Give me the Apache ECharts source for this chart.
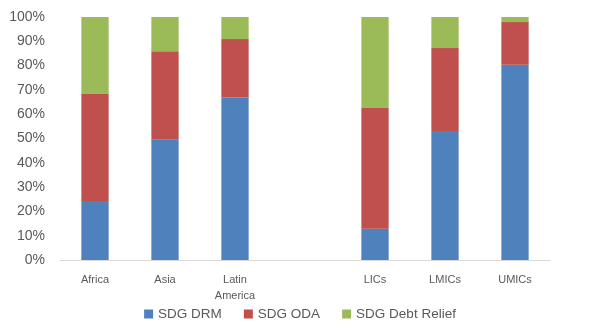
<!DOCTYPE html>
<html><head><meta charset="utf-8">
<script src="https://cdn.jsdelivr.net/npm/echarts@6/dist/echarts.min.js"></script>
<style>html,body{margin:0;padding:0;background:#fff}#c{width:600px;height:328px}</style>
</head><body><div id="c"></div>
<script>
const categories = ['Africa', 'Asia', 'Latin\nAmerica', '', 'LICs', 'LMICs', 'UMICs'];
const drm = [24.3, 49.5, 66.9, null, 12.9, 53.1, 80.4];
const oda = [44.0, 36.4, 24.0, null, 49.7, 34.1, 17.5];
const debt = [31.7, 14.1, 9.1, null, 37.4, 12.8, 2.1];
const yTicks = [0, 10, 20, 30, 40, 50, 60, 70, 80, 90, 100];

const chart = echarts.init(document.getElementById('c'));
const barW = '39%';
chart.setOption({
  animation: false,
  grid: {left: 60, right: 50, top: 17, bottom: 68},
  legend: {
    bottom: 2, left: 'center', itemWidth: 9, itemHeight: 9, itemGap: 22,
    icon: 'rect',
    textStyle: {fontFamily: 'Liberation Sans', fontSize: 13.5, color: '#595959'},
    data: ['SDG DRM', 'SDG ODA', 'SDG Debt Relief']
  },
  xAxis: {
    type: 'category', data: categories,
    axisLine: {lineStyle: {color: '#D9D9D9'}},
    axisTick: {show: false},
    axisLabel: {fontFamily: 'Liberation Sans', fontSize: 11, color: '#595959', margin: 12, lineHeight: 16, interval: 0}
  },
  yAxis: {
    type: 'value', min: 0, max: 100, interval: 10,
    axisLine: {show: false}, axisTick: {show: false}, splitLine: {show: false},
    axisLabel: {fontFamily: 'Liberation Sans', fontSize: 14, color: '#595959', margin: 15,
      formatter: v => yTicks.includes(v) ? v + '%' : ''}
  },
  series: [
    {name: 'SDG DRM', type: 'bar', stack: 's', data: drm, barWidth: barW, itemStyle: {color: '#4F81BD'}},
    {name: 'SDG ODA', type: 'bar', stack: 's', data: oda, barWidth: barW, itemStyle: {color: '#C0504D'}},
    {name: 'SDG Debt Relief', type: 'bar', stack: 's', data: debt, barWidth: barW, itemStyle: {color: '#9BBB59'}}
  ]
});
</script></body></html>
